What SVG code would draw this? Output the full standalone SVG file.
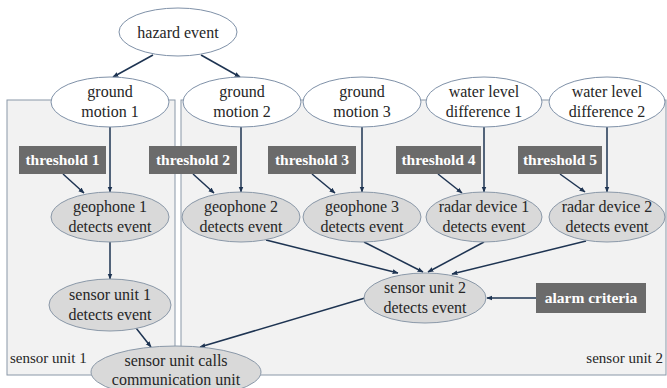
<svg xmlns="http://www.w3.org/2000/svg" width="667" height="388" viewBox="0 0 667 388" font-family="Liberation Serif">
<style>
.cl{fill:#f2f2f2;stroke:#8a98a8;stroke-width:1}
.w{fill:#ffffff;stroke:#7f91a8;stroke-width:1}
.g{fill:#d9d9d9;stroke:#8a98a8;stroke-width:1}
.b{fill:#6b6b6b}
.t{font-family:"Liberation Serif",serif;font-size:16px;fill:#262626;text-anchor:middle}
.bt{font-family:"Liberation Serif",serif;font-size:15.5px;font-weight:bold;fill:#ffffff;text-anchor:middle}
.lb{font-family:"Liberation Serif",serif;font-size:15px;fill:#262626}
.e{stroke:#1e3452;stroke-width:1.5;fill:none;marker-end:url(#a)}
</style>
<defs>
<marker id="a" viewBox="0 0 10 10" refX="9" refY="5" markerWidth="6" markerHeight="6" markerUnits="userSpaceOnUse" orient="auto">
<path d="M0,1 L10,5 L0,9 z" fill="#1e3452"/>
</marker>
</defs>
<g id="clusters">
<rect class="cl" x="7" y="100" width="168" height="275"/>
<rect class="cl" x="181" y="100" width="485" height="275"/>
<text class="lb" x="10" y="363">sensor unit 1</text>
<text class="lb" x="663" y="363" text-anchor="end">sensor unit 2</text>
</g>
<g id="connectors">
<line class="e" x1="153" y1="55" x2="113" y2="77"/>
<line class="e" x1="201" y1="55" x2="240" y2="77"/>
<line class="e" x1="110" y1="127" x2="110" y2="192"/>
<line class="e" x1="63" y1="174" x2="84" y2="193"/>
<line class="e" x1="241" y1="127" x2="241" y2="192"/>
<line class="e" x1="193" y1="174" x2="214" y2="193"/>
<line class="e" x1="362" y1="127" x2="362" y2="192"/>
<line class="e" x1="312" y1="174" x2="335" y2="193"/>
<line class="e" x1="484" y1="127" x2="484" y2="192"/>
<line class="e" x1="438" y1="174" x2="462" y2="193"/>
<line class="e" x1="607" y1="127" x2="607" y2="192"/>
<line class="e" x1="560" y1="174" x2="585" y2="192"/>
<line class="e" x1="110" y1="242" x2="110" y2="279"/>
<line class="e" x1="136" y1="328" x2="151" y2="347"/>
<line class="e" x1="266" y1="240" x2="398" y2="273"/>
<line class="e" x1="364" y1="242" x2="423" y2="272"/>
<line class="e" x1="484" y1="242" x2="428" y2="272"/>
<line class="e" x1="586" y1="241" x2="452" y2="274"/>
<line class="e" x1="536" y1="298" x2="487" y2="298"/>
<line class="e" x1="365" y1="298" x2="200" y2="347"/>
</g>
<g id="hazard"><ellipse class="w" cx="178" cy="32" rx="59" ry="24"/><text class="t" x="178" y="38">hazard event</text></g>
<g id="gm1"><ellipse class="w" cx="110" cy="102" rx="59" ry="25"/><text class="t" x="110" y="97">ground</text><text class="t" x="110" y="117">motion 1</text></g>
<g id="gm2"><ellipse class="w" cx="242" cy="102" rx="59" ry="25"/><text class="t" x="242" y="97">ground</text><text class="t" x="242" y="117">motion 2</text></g>
<g id="gm3"><ellipse class="w" cx="362" cy="102" rx="59" ry="25"/><text class="t" x="362" y="97">ground</text><text class="t" x="362" y="117">motion 3</text></g>
<g id="wl1"><ellipse class="w" cx="484" cy="102" rx="58" ry="25"/><text class="t" x="484" y="97">water level</text><text class="t" x="484" y="117">difference 1</text></g>
<g id="wl2"><ellipse class="w" cx="607" cy="102" rx="58" ry="25"/><text class="t" x="607" y="97">water level</text><text class="t" x="607" y="117">difference 2</text></g>
<g id="th1"><rect class="b" x="19" y="146" width="87" height="28"/><text class="bt" x="62.5" y="165">threshold 1</text></g>
<g id="th2"><rect class="b" x="149" y="146" width="88" height="28"/><text class="bt" x="193" y="165">threshold 2</text></g>
<g id="th3"><rect class="b" x="268" y="146" width="88" height="28"/><text class="bt" x="312" y="165">threshold 3</text></g>
<g id="th4"><rect class="b" x="396" y="146" width="85" height="28"/><text class="bt" x="438.5" y="165">threshold 4</text></g>
<g id="th5"><rect class="b" x="518" y="146" width="84" height="28"/><text class="bt" x="560" y="165">threshold 5</text></g>
<g id="geo1"><ellipse class="g" cx="110" cy="217" rx="59" ry="25"/><text class="t" x="110" y="212">geophone 1</text><text class="t" x="110" y="232">detects event</text></g>
<g id="geo2"><ellipse class="g" cx="241" cy="217" rx="59" ry="25"/><text class="t" x="241" y="212">geophone 2</text><text class="t" x="241" y="232">detects event</text></g>
<g id="geo3"><ellipse class="g" cx="362" cy="217" rx="59" ry="25"/><text class="t" x="362" y="212">geophone 3</text><text class="t" x="362" y="232">detects event</text></g>
<g id="rd1"><ellipse class="g" cx="484" cy="217" rx="58" ry="25"/><text class="t" x="484" y="212">radar device 1</text><text class="t" x="484" y="232">detects event</text></g>
<g id="rd2"><ellipse class="g" cx="607" cy="217" rx="58" ry="25"/><text class="t" x="607" y="212">radar device 2</text><text class="t" x="607" y="232">detects event</text></g>
<g id="su1"><ellipse class="g" cx="110" cy="305" rx="61" ry="26"/><text class="t" x="110" y="300">sensor unit 1</text><text class="t" x="110" y="320">detects event</text></g>
<g id="su2"><ellipse class="g" cx="425" cy="298" rx="61" ry="25"/><text class="t" x="425" y="293">sensor unit 2</text><text class="t" x="425" y="313">detects event</text></g>
<g id="alarm"><rect class="b" x="536" y="283" width="110" height="30"/><text class="bt" x="591" y="303">alarm criteria</text></g>
<g id="comm"><ellipse class="g" cx="176" cy="372" rx="85" ry="26"/><text class="t" x="176" y="366">sensor unit calls</text><text class="t" x="176" y="385">communication unit</text></g>
</svg>
